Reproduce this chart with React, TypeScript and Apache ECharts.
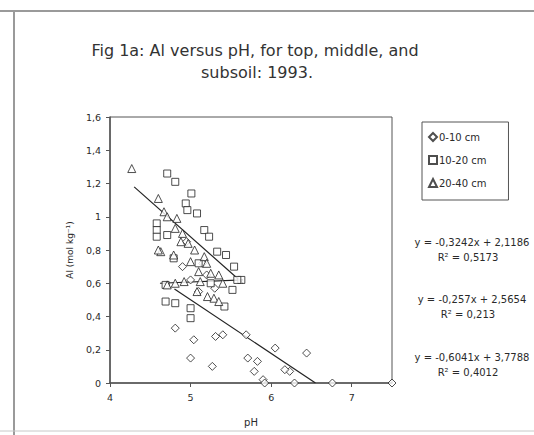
import React, { useEffect, useRef } from "react";
import * as echarts from "echarts";

const titleLines = ["Fig 1a: Al versus pH, for top, middle, and", "subsoil: 1993."];
const xTitle = "pH";
const yTitle = "Al (mol kg⁻¹)";
const seriesNames = ["0-10 cm", "10-20 cm", "20-40 cm"];

const top010: number[][] = [
  [4.81, 0.33], [5.04, 0.26], [5.0, 0.15], [5.27, 0.1], [5.31, 0.28], [5.4, 0.29],
  [5.69, 0.29], [5.71, 0.15], [5.83, 0.13], [5.79, 0.07], [5.9, 0.02], [5.92, 0.0],
  [6.05, 0.21], [6.23, 0.07], [6.17, 0.08], [6.29, 0.0], [6.44, 0.18], [6.76, 0.0],
  [7.5, 0.0], [5.0, 0.62], [5.1, 0.55], [5.2, 0.65], [4.9, 0.7], [5.15, 0.72],
  [5.3, 0.57], [4.95, 0.85],
];
const mid1020: number[][] = [
  [4.71, 1.26], [4.81, 1.21], [5.01, 1.14], [4.94, 1.08], [4.96, 1.04], [5.08, 1.02],
  [5.17, 0.92], [5.23, 0.88], [5.33, 0.79], [5.44, 0.77], [5.54, 0.7], [5.63, 0.62],
  [5.52, 0.56], [4.58, 0.96], [4.58, 0.92], [4.58, 0.88], [4.71, 0.89], [4.79, 0.75],
  [4.69, 0.59], [4.69, 0.49], [4.81, 0.48], [5.0, 0.45], [5.0, 0.39], [5.42, 0.46],
  [5.58, 0.62], [5.1, 0.72], [5.25, 0.6],
];
const sub2040: number[][] = [
  [4.27, 1.29], [4.6, 1.11], [4.67, 1.03], [4.71, 1.0], [4.83, 0.99], [4.63, 0.79],
  [4.6, 0.8], [4.79, 0.77], [4.71, 0.59], [4.81, 0.6], [4.92, 0.61], [5.12, 0.61],
  [5.21, 0.52], [5.29, 0.51], [5.35, 0.49], [5.1, 0.67], [5.17, 0.76], [4.81, 0.93],
  [4.9, 0.9], [4.97, 0.84], [5.05, 0.8], [5.0, 0.73], [5.2, 0.72], [5.25, 0.66],
  [5.35, 0.65], [5.4, 0.6], [5.08, 0.55], [4.88, 0.85],
];

const trendA: number[][] = [[4.3, 1.18], [5.65, 0.6]];
const trendB: number[][] = [[4.62, 0.6], [5.65, 0.62]];
const trendC: number[][] = [[4.8, 0.565], [6.55, 0.0]];

const equations = [
  ["y = -0,3242x + 2,1186", "R² = 0,5173"],
  ["y = -0,257x + 2,5654", "R² = 0,213"],
  ["y = -0,6041x + 3,7788", "R² = 0,4012"],
];

const comma = (v: number) => String(Math.round(v * 10) / 10).replace(".", ",");

export default function App() {
  const ref = useRef<HTMLDivElement>(null);
  useEffect(() => {
    if (!ref.current) return;
    const chart = echarts.init(ref.current, null, { renderer: "svg" });
    const font = "DejaVu Sans, Verdana, sans-serif";
    const ink = "#2a2a2a";
    const marker = { color: "#ffffff", borderColor: "#222", borderWidth: 1 };
    const lineSeries = (d: number[][]) => ({
      type: "line",
      data: d,
      symbol: "none",
      silent: true,
      lineStyle: { color: "#222", width: 1.2 },
      z: 3,
    });
    const eqY = [242, 299, 357];
    const graphics: any[] = [
      { type: "line", shape: { x1: 0, y1: 11, x2: 534, y2: 11 }, style: { stroke: "#9a9a9a", lineWidth: 2 } },
      { type: "line", shape: { x1: 14, y1: 12, x2: 14, y2: 435 }, style: { stroke: "#9a9a9a", lineWidth: 2 } },
      { type: "line", shape: { x1: 0, y1: 431, x2: 534, y2: 431 }, style: { stroke: "#c8c8c8", lineWidth: 1 } },
      {
        type: "text", x: 255, y: 50,
        style: { text: titleLines[0], font: `16px ${font}`, fill: "#333", textAlign: "center", textVerticalAlign: "middle" },
      },
      {
        type: "text", x: 257, y: 72,
        style: { text: titleLines[1], font: `16px ${font}`, fill: "#333", textAlign: "center", textVerticalAlign: "middle" },
      },
    ];
    equations.forEach((eq, i) => {
      graphics.push({
        type: "text", x: 472, y: eqY[i],
        style: { text: eq[0], font: `10px ${font}`, fill: ink, textAlign: "center", textVerticalAlign: "middle" },
      });
      graphics.push({
        type: "text", x: 468, y: eqY[i] + 15,
        style: { text: eq[1], font: `10px ${font}`, fill: ink, textAlign: "center", textVerticalAlign: "middle" },
      });
    });
    chart.setOption({
      animation: false,
      backgroundColor: "#ffffff",
      grid: {
        left: 110, right: 142, top: 117, bottom: 52,
        show: true, borderColor: "#555", borderWidth: 1, backgroundColor: "transparent",
      },
      legend: {
        orient: "vertical",
        left: 422, top: 122,
        width: 93,
        padding: [10, 22, 12, 6],
        itemGap: 13,
        itemWidth: 8, itemHeight: 8,
        borderColor: "#555", borderWidth: 1,
        data: [
          { name: seriesNames[0], icon: "diamond" },
          { name: seriesNames[1], icon: "rect" },
          { name: seriesNames[2], icon: "triangle" },
        ],
        textStyle: { fontFamily: font, fontSize: 10, color: ink, padding: [0, 0, 0, -3] },
      },
      xAxis: {
        type: "value", min: 4, max: 7.5, interval: 1,
        name: xTitle, nameLocation: "middle", nameGap: 34,
        nameTextStyle: { fontFamily: font, fontSize: 10, color: ink },
        axisLine: { show: true, lineStyle: { color: "#555", width: 1.5 } },
        axisTick: { show: true, inside: false, length: 4, lineStyle: { color: "#555" } },
        axisLabel: { fontFamily: font, fontSize: 9.5, color: ink, margin: 9, showMaxLabel: false, formatter: comma },
        splitLine: { show: false },
      },
      yAxis: {
        type: "value", min: 0, max: 1.6, interval: 0.2,
        name: yTitle, nameLocation: "middle", nameGap: 36, nameRotate: 90,
        nameTextStyle: { fontFamily: font, fontSize: 9, color: ink },
        axisLine: { show: true, lineStyle: { color: "#555", width: 1.5 } },
        axisTick: { show: true, inside: false, length: 4, lineStyle: { color: "#555" } },
        axisLabel: { fontFamily: font, fontSize: 9.5, color: ink, margin: 9, formatter: comma },
        splitLine: { show: false },
      },
      series: [
        { name: seriesNames[0], type: "scatter", symbol: "diamond", symbolSize: 8, data: top010, itemStyle: marker, z: 4 },
        { name: seriesNames[1], type: "scatter", symbol: "rect", symbolSize: 7, data: mid1020, itemStyle: marker, z: 4 },
        { name: seriesNames[2], type: "scatter", symbol: "triangle", symbolSize: 8, data: sub2040, itemStyle: marker, z: 4 },
        lineSeries(trendA),
        lineSeries(trendB),
        lineSeries(trendC),
      ],
      graphic: graphics,
    });
    return () => chart.dispose();
  }, []);
  return <div ref={ref} style={{ position: "fixed", left: 0, top: 0, width: 534, height: 435 }} />;
}
